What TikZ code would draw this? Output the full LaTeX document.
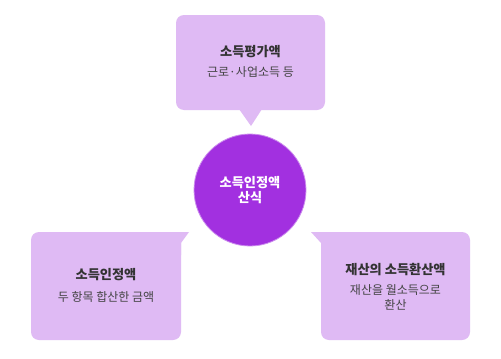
\documentclass[tikz,border=0pt]{standalone}
\usepackage{fontspec}
\setmainfont{Noto Sans CJK KR}
\newfontfamily\heavyfont{Noto Sans CJK KR Black}
\usepackage{xcolor}
\usepackage{tikz}
\usetikzlibrary{positioning,calc}
\definecolor{Ink}{HTML}{333333}
\definecolor{Muted}{HTML}{444444}
\definecolor{Lilac}{HTML}{DFBAF4}
\definecolor{Violet}{HTML}{A230E0}
\tikzset{
  bubble/.style={fill=Lilac,rounded corners=8pt},
  pointer/.style={fill=Lilac},
  hub/.style={circle,fill=Violet,draw=Violet!55,line width=0.8pt,minimum size=112pt,inner sep=0pt},
  title/.style={font=\fontsize{13.2}{15}\selectfont\heavyfont,text=Ink,align=center,inner sep=0pt},
  note/.style={font=\fontsize{12}{15}\selectfont,text=Muted,align=center,inner sep=0pt},
  hubtext/.style={font=\fontsize{13.2}{15}\selectfont\heavyfont,text=white,align=center,inner sep=0pt}
}
\begin{document}
\begin{tikzpicture}[x=1pt,y=-1pt]
  \useasboundingbox[fill=white] (0,0) rectangle (501,359);
  % top bubble
  \fill[bubble] (176,15) rectangle (325,110);
  \fill[pointer] (239,109)--(262,109)--(251,126)--cycle;
  \node[title] (evalTitle) at (250.5,52) {소득평가액};
  \node[note] (evalNote) at (250.5,72) {근로·사업소득 등};
  % left bubble
  \fill[bubble] (31,232) rectangle (181,340);
  \fill[pointer] (165,232)--(189,232)--(181,243)--(181,255)--(165,255)--cycle;
  \node[title] (sumTitle) at (106,275) {소득인정액};
  \node[note] (sumNote) at (106,297) {두 항목 합산한 금액};
  % right bubble
  \fill[bubble] (321,232) rectangle (470,340);
  \fill[pointer] (311,232)--(337,232)--(337,255)--(321,255)--(321,243)--cycle;
  \node[title] (assetTitle) at (395.5,270) {재산의 소득환산액};
  \node[note] (assetNote) at (395.5,297.5) {재산을 월소득으로\\환산};
  % centre
  \node[hub] (formula) at (250,190) {};
  \node[hubtext] (formulaText) at (formula.center) {소득인정액\\산식};
\end{tikzpicture}
\end{document}
